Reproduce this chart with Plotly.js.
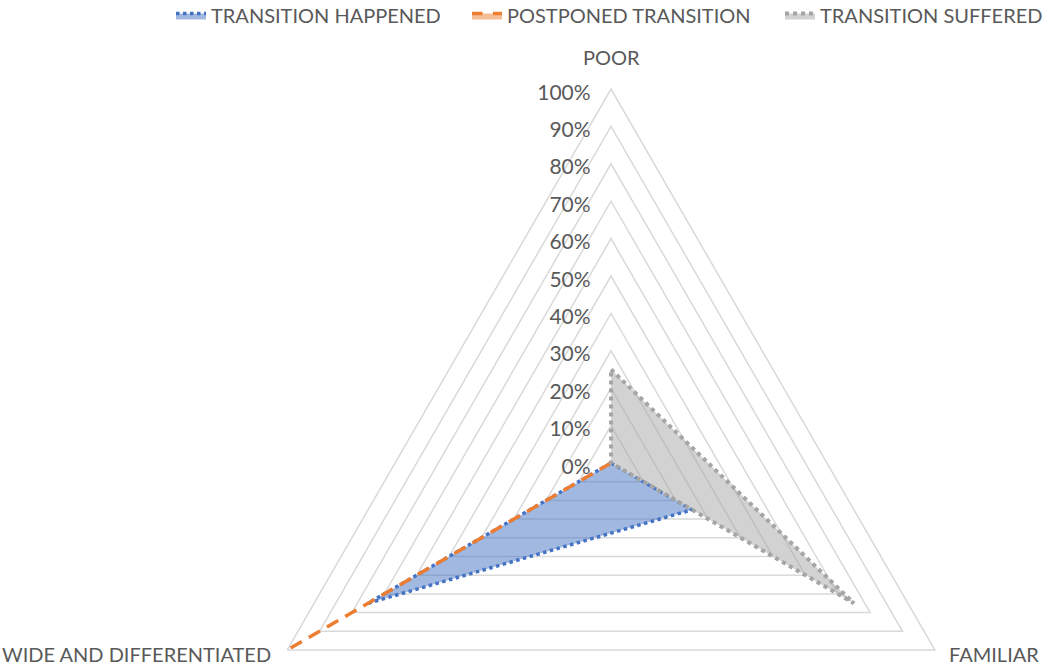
<!DOCTYPE html>
<html>
<head>
<meta charset="utf-8">
<script src="https://cdn.plot.ly/plotly-3.0.1.min.js"></script>
<style>
  html, body { margin: 0; padding: 0; overflow: hidden; background: #fff; }
  #chart { width: 1043px; height: 900px; }
</style>
</head>
<body>
<div id="chart"></div>
<script>
const categories = ["POOR", "FAMILIAR", "WIDE AND DIFFERENTIATED"];
const seriesNames = ["TRANSITION HAPPENED", "POSTPONED TRANSITION", "TRANSITION SUFFERED"];
const transitionHappened = [0, 0.25, 0.75];
const postponedTransition = [0, 0, 1.0];
const transitionSuffered = [0.25, 0.75, 0];
const radialTickVals = [0, 0.1, 0.2, 0.3, 0.4, 0.5, 0.6, 0.7, 0.8, 0.9, 1.0];
const radialTickText = ["0%", "10%", "20%", "30%", "40%", "50%", "60%", "70%", "80%", "90%", "100%"];

function closed(arr) { return arr.concat([arr[0]]); }

const W = 1043, H = 900;
const cx = 611, cy = 463, R = 374;

const styles = [
  { color: "#4472C4", fill: "rgba(68,114,196,0.5)", dash: "dot", width: 3.5 },
  { color: "#ED7D31", fill: "rgba(237,125,49,0.5)", dash: "dash", width: 3.5 },
  { color: "#A5A5A5", fill: "rgba(165,165,165,0.5)", dash: "dot", width: 4 }
];
const values = [transitionHappened, postponedTransition, transitionSuffered];
const legendIds = ["legend", "legend2", "legend3"];
const legendLeftPx = [171, 467, 780];

const traces = values.map((v, i) => ({
  type: "scatterpolar",
  r: closed(v),
  theta: closed(categories),
  name: seriesNames[i],
  legend: legendIds[i],
  mode: "lines",
  fill: "toself",
  fillcolor: styles[i].fill,
  line: { color: styles[i].color, dash: styles[i].dash, width: styles[i].width },
  hoverinfo: "name+r+theta"
}));

// category label placement (paper pixels)
const catLabelPos = [
  { x: 611, y: 57, xanchor: "center" },
  { x: 947, y: 654, xanchor: "left" },
  { x: 273, y: 654, xanchor: "right" }
];
const annotations = categories.map((c, i) => ({
  text: c,
  xref: "paper", yref: "paper",
  x: catLabelPos[i].x / W,
  y: 1 - catLabelPos[i].y / H,
  xanchor: catLabelPos[i].xanchor,
  yanchor: "middle",
  showarrow: false,
  font: { size: 20, color: "#595959" }
}));

const layout = {
  width: W,
  height: H,
  margin: { l: 0, r: 0, t: 0, b: 0, autoexpand: false },
  paper_bgcolor: "#fff",
  font: { family: "Lato, 'Open Sans', sans-serif", color: "#595959", size: 18 },
  showlegend: true,
  annotations: annotations,
  polar: {
    domain: {
      x: [(cx - R) / W, (cx + R) / W],
      y: [1 - (cy + R) / H, 1 - (cy - R) / H]
    },
    bgcolor: "rgba(0,0,0,0)",
    gridshape: "linear",
    radialaxis: {
      range: [0, 1],
      tickvals: radialTickVals,
      ticktext: radialTickText,
      angle: 90,
      side: "counterclockwise",
      showline: false,
      ticks: "outside",
      ticklen: 1,
      tickcolor: "rgba(0,0,0,0)",
      gridcolor: "#D9D9D9",
      gridwidth: 1.5,
      tickfont: { size: 21, color: "#595959" }
    },
    angularaxis: {
      type: "category",
      categoryarray: categories,
      rotation: 90,
      direction: "clockwise",
      showgrid: false,
      showline: true,
      showticklabels: false,
      linecolor: "#D9D9D9",
      linewidth: 1.5,
      ticks: ""
    }
  }
};

legendIds.forEach((id, i) => {
  layout[id] = {
    orientation: "h",
    x: legendLeftPx[i] / W, xanchor: "left",
    y: 1 + 4 / H, yanchor: "top",
    font: { size: 20, color: "#595959" },
    itemwidth: 30,
    bgcolor: "rgba(0,0,0,0)"
  };
});

Plotly.newPlot("chart", traces, layout, { displayModeBar: false, staticPlot: true });
</script>
</body>
</html>
